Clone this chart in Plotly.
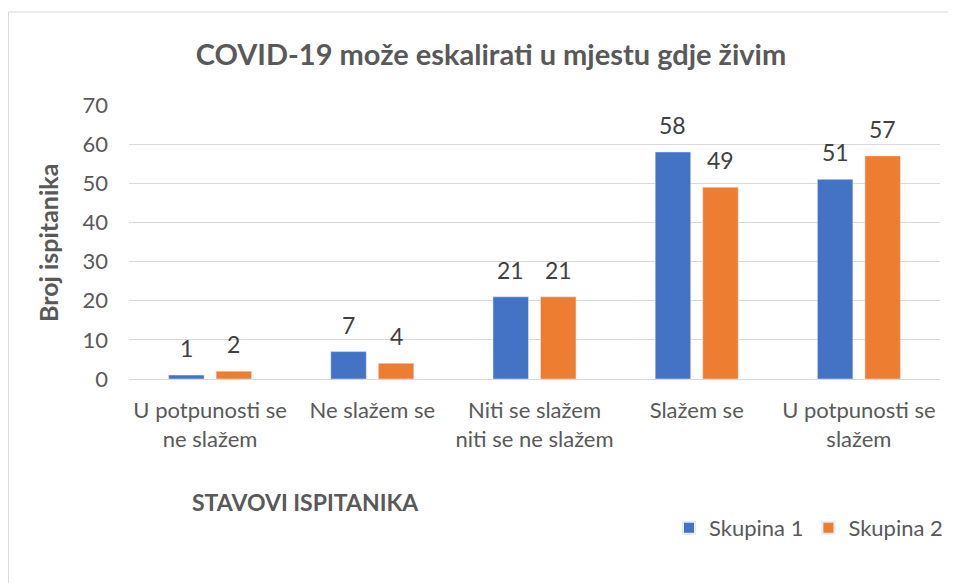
import plotly.graph_objects as go

categories = ["U potpunosti se<br>ne slažem", "Ne slažem se", "Niti se slažem<br>niti se ne slažem", "Slažem se", "U potpunosti se<br>slažem"]
skupina1 = [1, 7, 21, 58, 51]
skupina2 = [2, 4, 21, 49, 57]
series_names = ["Skupina 1", "Skupina 2"]
colors = ["#4472C4", "#ED7D31"]
y_ticks = [0, 10, 20, 30, 40, 50, 60, 70]

FONT = "Lato"
GREY = "#595959"
OFF = 8  # page body margin

W, H = 956, 583
# plot area in screen pixels
SL, SR, ST, SB = 129, 940, 105, 379
L = SL - OFF
T = ST - OFF
R = W - (SR - OFF)
B = H - (SB - OFF)
pw, ph = SR - SL, SB - ST
BARGAP, GROUPGAP = 0.414, 0.253

def px(x):
    return (x - SL) / pw

def py(y):
    return (SB - y) / ph

fig = go.Figure()
for name, vals, col in zip(series_names, [skupina1, skupina2], colors):
    fig.add_trace(go.Bar(x=categories, y=vals, name=name, marker_color=col))

# data labels
slot = pw / len(categories) * (1 - BARGAP) / 2
for k, vals in enumerate([skupina1, skupina2]):
    shift = (k - 0.5) * slot
    for c, v in zip(categories, vals):
        fig.add_annotation(x=c, y=v, xref="x", yref="y", text=str(v), showarrow=False,
                           xshift=shift, yshift=11, yanchor="bottom", xanchor="center",
                           font=dict(size=23, color="#404040", family=FONT))

fig.update_layout(
    width=W, height=H,
    margin=dict(l=L, r=R, t=T, b=B),
    paper_bgcolor="white", plot_bgcolor="white",
    barmode="group", bargap=BARGAP, bargroupgap=GROUPGAP,
    font=dict(family=FONT, color=GREY),
    title=dict(text="<b>COVID-19 može eskalirati u mjestu gdje živim</b>",
               x=px(491), xref="paper", xanchor="center",
               y=1 - (55 - OFF) / H, yref="container", yanchor="middle",
               font=dict(size=29, color=GREY, family=FONT)),
    showlegend=True,
    legend=dict(orientation="h", x=px(948), xanchor="right", y=py(528), yanchor="middle",
                font=dict(size=22, color=GREY, family=FONT), itemsizing="constant",
                traceorder="normal", bgcolor="rgba(0,0,0,0)"),
    yaxis=dict(range=[0, 70], tickvals=y_ticks, showgrid=True, gridcolor="#d9d9d9", gridwidth=1,
               zeroline=False, showline=False, ticks="", ticklabelstandoff=20,
               tickfont=dict(size=22, color=GREY, family=FONT)),
    xaxis=dict(showline=True, linecolor="#d9d9d9", linewidth=1, ticks="", ticklabelstandoff=12,
               tickfont=dict(size=22, color=GREY, family=FONT)),
)

fig.add_annotation(text="<b>Broj ispitanika</b>", textangle=-90, xref="paper", yref="paper",
                   x=px(48), y=py(243), xanchor="center", yanchor="middle", showarrow=False,
                   font=dict(size=25, color=GREY, family=FONT))
fig.add_annotation(text="<b>STAVOVI ISPITANIKA</b>", xref="paper", yref="paper",
                   x=px(305), y=py(502), xanchor="center", yanchor="middle", showarrow=False,
                   font=dict(size=23, color=GREY, family=FONT))

fig.add_shape(type="rect", xref="paper", yref="paper",
              x0=px(8.5), x1=px(970), y0=py(600), y1=py(12),
              line=dict(color="#d9d9d9", width=1), fillcolor="rgba(0,0,0,0)", layer="below")

fig.write_html("out.html")
